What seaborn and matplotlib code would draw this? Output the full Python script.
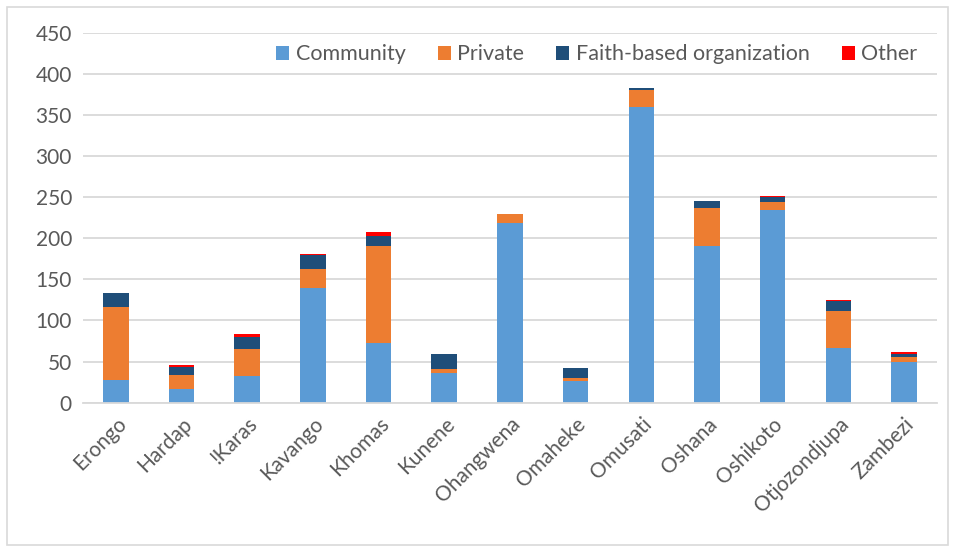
import pandas as pd
import seaborn as sns
import matplotlib.pyplot as plt
from matplotlib.patches import Rectangle

regions = ["Erongo", "Hardap", "!Karas", "Kavango", "Khomas", "Kunene", "Ohangwena",
           "Omaheke", "Omusati", "Oshana", "Oshikoto", "Otjozondjupa", "Zambezi"]
community = [28, 17, 33, 140, 73, 36, 219, 27, 360, 191, 234, 66, 50]
private = [88, 17, 32, 23, 117, 5, 10, 3, 20, 46, 10, 45, 6]
faith = [17, 10, 15, 16, 13, 18, 1, 12, 3, 8, 6, 13, 3]
other = [1, 2, 3, 2, 5, 0, 0, 0, 0, 0, 1, 1, 3]

series = ["Community", "Private", "Faith-based organization", "Other"]
colors = ["#5b9bd5", "#ed7d31", "#1f4e79", "#ff0000"]

df = pd.DataFrame({"Region": regions, "Community": community, "Private": private,
                   "Faith-based organization": faith, "Other": other})

sns.set_style("white")
plt.rcParams["font.family"] = ["Lato", "DejaVu Sans"]

fig = plt.figure(figsize=(9.55, 5.51), dpi=100)
ax = fig.add_axes([0.087, 0.269, 0.894, 0.672])

bottom = pd.Series([0] * len(regions), dtype=float)
for name, col in zip(series, colors):
    sns.barplot(x=df["Region"], y=df[name], bottom=bottom, color=col, width=0.39,
                saturation=1, label=name, ax=ax, linewidth=0)
    bottom = bottom + df[name]

ax.set_ylim(0, 450)
ax.set_yticks(range(0, 451, 50))
ax.set_xlim(-0.5, len(regions) - 0.5)
ax.yaxis.grid(True, color="#d9d9d9", linewidth=1.3)
ax.set_axisbelow(True)
for s in ["top", "right", "left"]:
    ax.spines[s].set_visible(False)
ax.spines["bottom"].set_color("#d9d9d9")
ax.spines["bottom"].set_linewidth(1.3)
ax.set_xlabel("")
ax.set_ylabel("")
ax.tick_params(axis="both", length=0, labelsize=15, colors="#595959", pad=8)
plt.setp(ax.get_xticklabels(), rotation=45, ha="right", rotation_mode="anchor")

leg = ax.legend(loc="upper right", ncol=4, frameon=False, fontsize=15.5,
                bbox_to_anchor=(1.0, 1.02), handlelength=0.6, handleheight=0.6,
                handletextpad=0.3, columnspacing=1.5)
for t in leg.get_texts():
    t.set_color("#595959")

fig.patches.append(Rectangle((0.007, 0.01), 0.986, 0.978, transform=fig.transFigure,
                             fill=False, edgecolor="#d9d9d9", linewidth=1.2))

fig.savefig("out.png", dpi=100)
